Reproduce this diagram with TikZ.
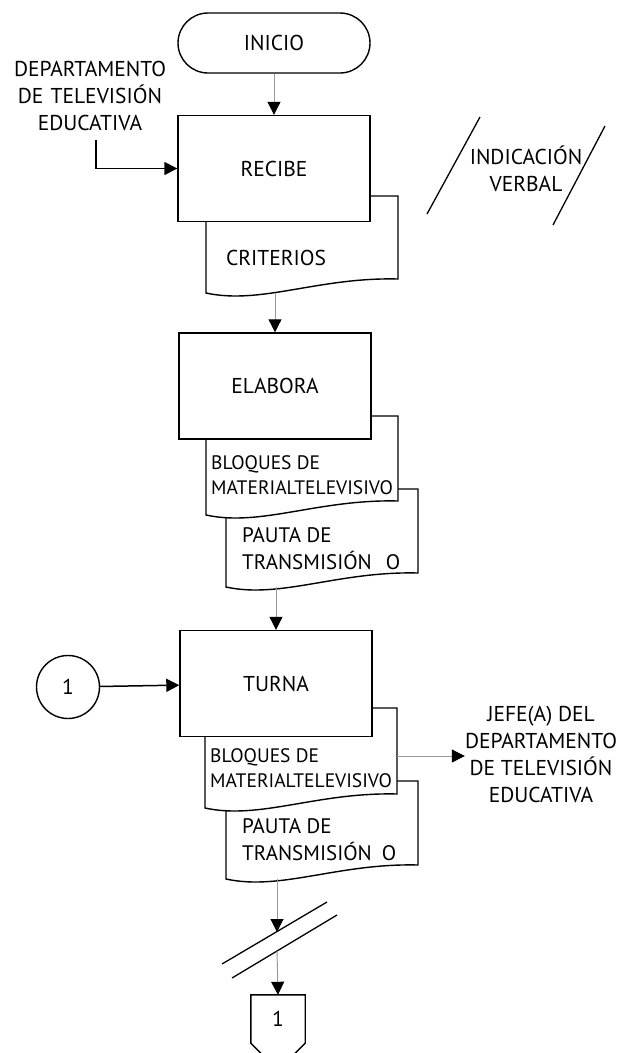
\documentclass[tikz,border=0pt]{standalone}
\usepackage{fontspec}
\setmainfont{PT Sans}
\usetikzlibrary{positioning, arrows.meta}

\tikzset{
  proc/.style={rectangle, draw, line width=1.4pt, fill=white, minimum width=192pt, minimum height=106pt, inner sep=0pt, font=\fontsize{21.5}{27}\selectfont},
  docbox/.style={rectangle, inner sep=0pt, outer sep=0pt, minimum width=192pt},
  docline/.style={draw, line width=1.4pt, fill=white},
  txt/.style={font=\fontsize{21.5}{27}\selectfont, align=center, inner sep=0pt},
  smalltxt/.style={font=\fontsize{19.5}{25}\selectfont, align=left, inner sep=0pt},
  flow/.style={draw=gray!80, line width=1pt, -{Triangle[length=13pt, width=13pt, color=black]}},
  flowdark/.style={draw, line width=1.5pt, -{Triangle[length=13pt, width=13pt]}},
}

% document symbol drawn round an empty node
\newcommand{\docshape}[1]{%
  \filldraw[docline] (#1.north west) -- (#1.north east) -- ([yshift=14pt]#1.south east)
    .. controls ([xshift=-80pt, yshift=16pt]#1.south east) and ([xshift=55pt, yshift=-12pt]#1.south west) .. (#1.south west) -- cycle;}

\begin{document}
\begin{tikzpicture}[x=1pt, y=-1pt]
\useasboundingbox (0,0) rectangle (625,1053);

% inicio
\node[proc, rounded corners=30pt, minimum height=60pt] (inicio) at (274,43) {INICIO};

% recibe
\node[docbox, minimum height=97pt] (crit) at (302,244.5) {};
\docshape{crit}
\node[txt] (critlbl) at (276,258) {CRITERIOS};
\node[proc] (recibe) at (274,168.5) {RECIBE};
\draw[flow] (inicio) -- (recibe);

\node[txt, text width=170pt] (dept) at (90,96) {DEPARTAMENTO\\DE TELEVISIÓN\\EDUCATIVA};
\draw[flowdark] (dept.south) ++(6pt,-9pt) |- (recibe.west);

\draw[line width=1.3pt] (427,214) -- (480,117);
\draw[line width=1.3pt] (553,225) -- (605,126);
\node[txt] (verbal) at (526,169) {INDICACIÓN\\VERBAL};

% elabora
\node[docbox, minimum height=98pt] (pauta1) at (322,538) {};
\docshape{pauta1}
\node[smalltxt, font=\fontsize{21}{27}\selectfont, anchor=west] (pauta1lbl) at (242,548.5) {PAUTA DE\\TRANSMISIÓN\hspace{14pt}O};
\node[docbox, minimum height=99pt] (bloq1) at (302,465.5) {};
\docshape{bloq1}
\node[smalltxt, anchor=west] (bloq1lbl) at (211,475.5) {BLOQUES DE\\MATERIALTELEVISIVO};
\node[proc] (elabora) at (275,386) {ELABORA};
\draw[flow] (crit.south -| elabora.north) -- (elabora);

% turna
\node[docbox, minimum height=98pt] (pauta2) at (322,830) {};
\docshape{pauta2}
\node[smalltxt, font=\fontsize{21}{27}\selectfont, anchor=west] (pauta2lbl) at (242,840) {PAUTA DE\\TRANSMISIÓN\hspace{10pt}O};
\node[docbox, minimum height=100pt] (bloq2) at (301,758) {};
\docshape{bloq2}
\node[smalltxt, anchor=west] (bloq2lbl) at (210,768.5) {BLOQUES DE\\MATERIALTELEVISIVO};
\node[proc] (turna) at (276,683.5) {TURNA};
\draw[flow] (pauta1.south -| turna.north) -- (turna);

\node[circle, draw, line width=1.4pt, minimum size=63pt, inner sep=0pt, font=\fontsize{21.5}{27}\selectfont] (con1) at (68,687) {1};
\draw[flowdark] (con1) -- (turna);

\node[txt] (jefe) at (541,754) {JEFE(A) DEL\\DEPARTAMENTO\\DE TELEVISIÓN\\EDUCATIVA};
\draw[flow] (bloq2.east |- 0,756) -- (jefe.west |- 0,756);

% corte y conector
\draw[line width=1.3pt] (222,964) -- (327,902);
\draw[line width=1.3pt] (232,978) -- (337,915);
\coordinate (cut1) at (277,932);
\coordinate (cut2) at (277,951);
\node[inner sep=0pt, minimum width=54pt, minimum height=48pt, font=\fontsize{21.5}{27}\selectfont] (offpg) at (278,1019) {1};
\draw[line width=1.4pt] (offpg.north west) -- (offpg.north east) -- (offpg.south east)
  -- ([yshift=-27pt]offpg.south) -- (offpg.south west) -- cycle;
\draw[flow] (pauta2.south -| cut1) -- (cut1);
\draw[flow] (cut2) -- (offpg.north);

\end{tikzpicture}
\end{document}
